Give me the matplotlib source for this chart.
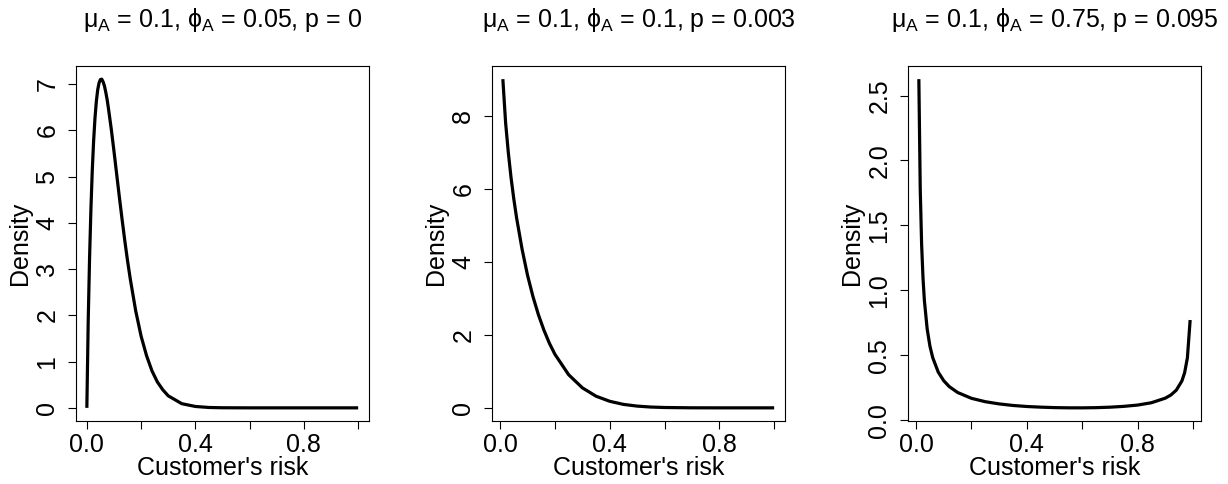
import matplotlib
matplotlib.use("Agg")
import matplotlib.pyplot as plt

plt.rcParams['font.family'] = ['Liberation Sans', 'DejaVu Sans']
plt.rcParams['mathtext.fontset'] = 'custom'
plt.rcParams['mathtext.rm'] = 'Liberation Sans'
plt.rcParams['mathtext.it'] = 'Liberation Sans'
plt.rcParams['mathtext.fallback'] = 'stixsans'

# beta densities of customer's risk, one per parameter set
risk1 = [0, 0.005, 0.01, 0.015, 0.02, 0.025, 0.03, 0.035, 0.04, 0.045, 0.05,
         0.055, 0.06, 0.065, 0.07, 0.075, 0.08, 0.09, 0.10, 0.11, 0.12, 0.13,
         0.14, 0.15, 0.16, 0.18, 0.20, 0.22, 0.24, 0.26, 0.28, 0.30, 0.35,
         0.40, 0.45, 0.50, 0.60, 0.80, 1.00]
dens1 = [0, 1.88, 3.24, 4.30, 5.14, 5.78, 6.27, 6.63, 6.88, 7.03, 7.10,
         7.11, 7.05, 6.96, 6.82, 6.66, 6.46, 6.03, 5.55, 5.05, 4.55, 4.07,
         3.61, 3.18, 2.79, 2.10, 1.55, 1.13, 0.80, 0.56, 0.39, 0.26, 0.09,
         0.03, 0.008, 0.002, 0, 0, 0]

risk2 = [0.01, 0.02, 0.03, 0.04, 0.05, 0.06, 0.08, 0.10, 0.12, 0.14, 0.16,
         0.18, 0.20, 0.25, 0.30, 0.35, 0.40, 0.45, 0.50, 0.55, 0.60, 0.70,
         0.80, 0.90, 1.00]
dens2 = [9.02, 7.83, 7.00, 6.31, 5.73, 5.22, 4.36, 3.64, 3.05, 2.55, 2.13,
         1.77, 1.47, 0.91, 0.55, 0.32, 0.18, 0.095, 0.048, 0.022, 0.0096,
         0.0012, 0.0001, 0, 0]

risk3 = [0.01, 0.015, 0.02, 0.025, 0.03, 0.04, 0.05, 0.06, 0.08, 0.10, 0.12,
         0.15, 0.20, 0.25, 0.30, 0.35, 0.40, 0.45, 0.50, 0.55, 0.60, 0.65,
         0.70, 0.75, 0.80, 0.85, 0.90, 0.92, 0.94, 0.96, 0.97, 0.98, 0.99]
dens3 = [2.626, 1.780, 1.353, 1.094, 0.921, 0.703, 0.570, 0.482, 0.370,
         0.303, 0.258, 0.213, 0.168, 0.142, 0.125, 0.113, 0.105, 0.100,
         0.0965, 0.0948, 0.0946, 0.0961, 0.0997, 0.106, 0.116, 0.134, 0.169,
         0.193, 0.231, 0.301, 0.365, 0.479, 0.771]

titles = [r'$\mathrm{\mu_A}$ = 0.1, $\mathrm{\phi_A}$ = 0.05, p = 0',
          r'$\mathrm{\mu_A}$ = 0.1, $\mathrm{\phi_A}$ = 0.1, p = 0.003',
          r'$\mathrm{\mu_A}$ = 0.1, $\mathrm{\phi_A}$ = 0.75, p = 0.095']
yticks = [list(range(0, 8)), [0, 2, 4, 6, 8], [0, 0.5, 1.0, 1.5, 2.0, 2.5]]
yticklabels = [[str(v) for v in yticks[0]], [str(v) for v in yticks[1]],
               ['0.0', '0.5', '1.0', '1.5', '2.0', '2.5']]
xticks = [0, 0.2, 0.4, 0.6, 0.8, 1.0]
xticklabels = ['0.0', '', '0.4', '', '0.8', '']

fig = plt.figure(figsize=(12.28, 4.84), dpi=100)
lefts = [76, 492, 908]
series = [(risk1, dens1), (risk2, dens2), (risk3, dens3)]

for i, (x, y) in enumerate(series):
    ax = fig.add_axes([lefts[i] / 1228, 1 - 421 / 484, 293 / 1228, 355 / 484])
    ax.plot(x, y, color='black', lw=2.3, solid_capstyle='butt',
            solid_joinstyle='round')
    ax.margins(0.04)
    ax.set_xticks(xticks)
    ax.set_xticklabels(xticklabels)
    ax.set_yticks(yticks[i])
    ax.set_yticklabels(yticklabels[i], rotation=90, va='center')
    ax.tick_params(direction='out', length=6, width=0.8, labelsize=18,
                   pad=3)
    ax.tick_params(axis='y', pad=6)
    for s in ax.spines.values():
        s.set_linewidth(0.8)
    ax.set_xlabel("Customer's risk", fontsize=18, va='center')
    ax.xaxis.set_label_coords(0.5, -0.133)
    ax.set_ylabel('Density', fontsize=18, va='center')
    ax.yaxis.set_label_coords(-0.19, 0.5)
    ax.text(0.5, 1.13, titles[i], transform=ax.transAxes, ha='center',
            va='center', fontsize=18)

fig.savefig('out.png', dpi=100)
